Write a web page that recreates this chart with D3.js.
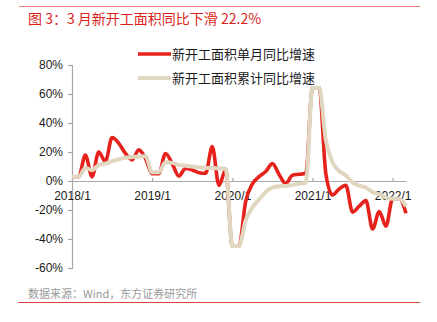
<!DOCTYPE html>
<html><head><meta charset="utf-8">
<script src="https://cdn.jsdelivr.net/npm/d3@7/dist/d3.min.js"></script>
<style>
body{margin:0;background:#fff;}
text{font-family:"Liberation Sans",Arial,"Noto Sans CJK SC",sans-serif;}
</style></head>
<body><svg id="c" width="437" height="322"></svg>
<script>
const months = [
"2018/1","2018/2","2018/3","2018/4","2018/5","2018/6","2018/7","2018/8","2018/9","2018/10","2018/11","2018/12",
"2019/1","2019/2","2019/3","2019/4","2019/5","2019/6","2019/7","2019/8","2019/9","2019/10","2019/11","2019/12",
"2020/1","2020/2","2020/3","2020/4","2020/5","2020/6","2020/7","2020/8","2020/9","2020/10","2020/11","2020/12",
"2021/1","2021/2","2021/3","2021/4","2021/5","2021/6","2021/7","2021/8","2021/9","2021/10","2021/11","2021/12",
"2022/1","2022/2","2022/3"];
const monthlyYoY = [
2.9,2.9,17.9,3,20,13.5,30,26,19,14.5,21.5,15.5,
5,5,19,12,3.4,8.7,7.6,5.7,5.3,23.7,-3,7.6,
-44.9,-44.9,-14,-2,3,6.5,12,4.5,-1.8,4,4.6,5.3,
64.3,64.3,5,-9.7,-5.5,-3,-21.5,-17.4,-13.5,-33.1,-21,-31.2,
-12.2,-12.2,-22.2];
const cumulativeYoY = [
2.9,2.9,9,7.5,11,12,13.5,15,16,16.5,16.8,17.2,
6,6,13,12.5,11,10.5,10,9.5,9,9,8.6,8.5,
-44.9,-44.9,-27.2,-18.4,-12.8,-7.6,-4.5,-3.6,-3.4,-2.7,-2.0,-1.2,
64.3,64.3,28.2,12.8,6.9,3.8,-0.9,-3.2,-4.5,-7.7,-9.1,-11.4,
-12.2,-12.2,-17.5];
const xTickLabels = ["2018/1","2019/1","2020/1","2021/1","2022/1"];
const yTicks = [-60,-40,-20,0,20,40,60,80];
const seriesNames = ["新开工面积单月同比增速","新开工面积累计同比增速"];
const titleText = "图 3：3 月新开工面积同比下滑 22.2%";
const sourceText = "数据来源：Wind，东方证券研究所";

const svg = d3.select("#c");
const RED = "#e5231c", BEIGE = "#e1d7c1", AX = "#a8a8a8";

// frame lines
svg.append("line").attr("x1",19).attr("x2",420).attr("y1",6.5).attr("y2",6.5).attr("stroke","#e87b76").attr("stroke-width",1);
svg.append("line").attr("x1",18).attr("x2",420).attr("y1",302.5).attr("y2",302.5).attr("stroke","#d9453c").attr("stroke-width",1);
svg.append("text").attr("x",28).attr("y",24).attr("fill","#dc1f1c").attr("font-size",14)
  .style("font-family","'Noto Sans CJK SC',sans-serif").text(titleText);
svg.append("text").attr("x",28).attr("y",298).attr("fill","#9a9a9a").attr("font-size",11)
  .style("font-family","'Noto Sans CJK SC',sans-serif").text(sourceText);

const x = d3.scalePoint().domain(months).range([72,406]);
const y = d3.scaleLinear().domain([-60,80]).range([268,65]);

// y axis
const ya = svg.append("g").attr("transform","translate(72,0)")
  .call(d3.axisLeft(y).tickValues(yTicks).tickSize(4).tickPadding(5).tickFormat(d=>d+"%"));
ya.select(".domain").attr("stroke",AX).attr("stroke-width",1.2);
ya.selectAll(".tick line").attr("stroke",AX).attr("stroke-width",1.2);
ya.selectAll("text").attr("font-size",12).attr("fill","#1a1a1a").style("font-family","'Liberation Sans',Arial,sans-serif");

// x axis at 0
const xa = svg.append("g").attr("transform",`translate(0,${y(0)})`)
  .call(d3.axisBottom(x).tickValues(xTickLabels).tickSize(-3).tickSizeOuter(0).tickPadding(8));
xa.select(".domain").attr("stroke",AX).attr("stroke-width",1.2);
xa.selectAll(".tick line").attr("stroke",AX).attr("stroke-width",1.2);
xa.selectAll("text").attr("font-size",12).attr("fill","#1a1a1a").attr("dy","0.9em").style("font-family","'Liberation Sans',Arial,sans-serif");

const line = d3.line().x((d,i)=>x(months[i])).y(d=>y(d)).curve(d3.curveMonotoneX);
svg.append("path").attr("d",line(monthlyYoY)).attr("fill","none").attr("stroke",RED).attr("stroke-width",3.6).attr("stroke-linejoin","round");
svg.append("path").attr("d",line(cumulativeYoY)).attr("fill","none").attr("stroke",BEIGE).attr("stroke-width",4).attr("stroke-linejoin","round");

// legend
const lg = [{c:RED,w:3.6,y:54},{c:BEIGE,w:4,y:78}];
lg.forEach((l,i)=>{
  svg.append("line").attr("x1",138).attr("x2",171).attr("y1",l.y).attr("y2",l.y).attr("stroke",l.c).attr("stroke-width",l.w);
  svg.append("text").attr("x",172).attr("y",l.y).attr("dy","0.35em").attr("font-size",13).attr("fill","#1a1a1a")
    .style("font-family","'Noto Sans CJK SC',sans-serif").text(seriesNames[i]);
});
</script></body></html>
